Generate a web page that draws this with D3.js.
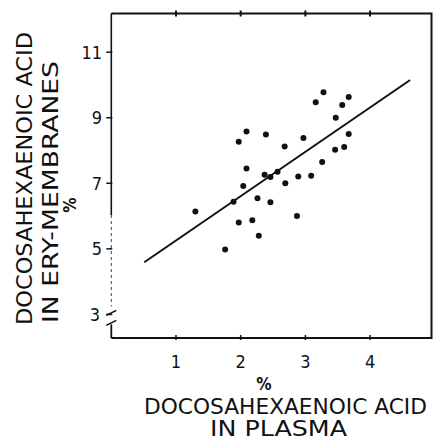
<!DOCTYPE html>
<html>
<head>
<meta charset="utf-8">
<script src="https://cdn.jsdelivr.net/npm/d3@7"></script>
<style>
  html, body { margin: 0; padding: 0; background: #fff; }
  svg text { font-family: "Liberation Sans Narrow", "DejaVu Sans Condensed", "DejaVu Sans", sans-serif; fill: #111; }
</style>
</head>
<body>
<div id="chart"></div>
<script>
'use strict';

// % docosahexaenoic acid in plasma (x) vs in erythrocyte membranes (y)
const plasmaDHA = [3.28, 3.16, 3.67, 3.57, 3.47, 3.67, 3.60, 3.46, 3.26, 2.97,
                   2.68, 2.39, 2.09, 1.97, 2.09, 2.04, 2.37, 2.46, 2.57, 2.69,
                   2.89, 3.09, 1.89, 2.26, 2.46, 2.18, 2.87, 1.97, 2.28, 1.76, 1.30]
const eryDHA    = [9.78, 9.47, 9.63, 9.39, 9.00, 8.50, 8.11, 8.02, 7.65, 8.38,
                   8.12, 8.49, 8.58, 8.27, 7.45, 6.92, 7.26, 7.19, 7.35, 7.00,
                   7.21, 7.23, 6.44, 6.54, 6.42, 5.87, 6.00, 5.80, 5.40, 4.98, 6.14]

// regression line end points
const lineX = [0.51, 4.62]
const lineY = [4.59, 10.15]

const xTicks = [1, 2, 3, 4]
const yTicks = [3, 5, 7, 9, 11]

const W = 434, H = 441
const frame = { left: 111.3, right: 431.5, top: 13.5, bottom: 338 }

const svg = d3.select('#chart').append('svg')
  .attr('width', W).attr('height', H)

const x = d3.scaleLinear().domain([0, 4.95]).range([frame.left, frame.right])
const y = d3.scaleLinear().domain([2.28, 12.18]).range([frame.bottom, frame.top])

const ink = '#111'

// frame: top + right + bottom solid
svg.append('path')
  .attr('d', `M${frame.left},${frame.top} H${frame.right} V${frame.bottom} H${frame.left}`)
  .attr('fill', 'none').attr('stroke', ink).attr('stroke-width', 2)

// left axis: solid upper part, faint dashed lower part, break, short solid stub
const y3 = y(3)
svg.append('line')
  .attr('x1', frame.left).attr('x2', frame.left)
  .attr('y1', frame.top).attr('y2', 215)
  .attr('stroke', ink).attr('stroke-width', 1.6)
svg.append('line')
  .attr('x1', frame.left).attr('x2', frame.left)
  .attr('y1', 215).attr('y2', y3 - 8)
  .attr('stroke', '#444').attr('stroke-width', 1).attr('stroke-dasharray', '3,3')
svg.append('line')
  .attr('x1', frame.left).attr('x2', frame.left)
  .attr('y1', y3 + 10).attr('y2', frame.bottom)
  .attr('stroke', ink).attr('stroke-width', 1.8)
;[0, 10].forEach((dy) => {
  svg.append('line')
    .attr('x1', frame.left - 5).attr('y1', y3 + dy + 1)
    .attr('x2', frame.left + 5).attr('y2', y3 + dy - 4)
    .attr('stroke', ink).attr('stroke-width', 1.6)
})

// ticks
svg.append('g').selectAll('line')
  .data(yTicks)
  .enter().append('line')
    .attr('x1', frame.left - 5).attr('x2', frame.left + 1)
    .attr('y1', (d) => y(d)).attr('y2', (d) => y(d))
    .attr('stroke', ink).attr('stroke-width', 1.5)

svg.append('g').selectAll('line')
  .data(xTicks)
  .enter().append('line')
    .attr('x1', (d) => x(d)).attr('x2', (d) => x(d))
    .attr('y1', frame.bottom - 3).attr('y2', frame.bottom + 2)
    .attr('stroke', ink).attr('stroke-width', 1.5)

svg.append('g').selectAll('line')
  .data(xTicks)
  .enter().append('line')
    .attr('x1', (d) => x(d)).attr('x2', (d) => x(d))
    .attr('y1', frame.top - 3).attr('y2', frame.top + 3)
    .attr('stroke', ink).attr('stroke-width', 2)

// tick labels
svg.append('g').selectAll('text')
  .data(yTicks)
  .enter().append('text')
    .attr('x', (d) => d === 3 ? 100 : 102)
    .attr('y', (d) => y(d))
    .attr('dy', '0.36em')
    .attr('text-anchor', 'end')
    .attr('font-size', 18)
    .text((d) => d)

svg.append('g').selectAll('text')
  .data(xTicks)
  .enter().append('text')
    .attr('x', (d) => x(d))
    .attr('y', 368)
    .attr('text-anchor', 'middle')
    .attr('font-size', 18)
    .text((d) => d)

// regression line
svg.append('path')
  .datum(lineX.map((v, i) => [v, lineY[i]]))
  .attr('d', d3.line().x((d) => x(d[0])).y((d) => y(d[1])))
  .attr('fill', 'none').attr('stroke', ink).attr('stroke-width', 2)

// points
svg.append('g').selectAll('circle')
  .data(plasmaDHA.map((v, i) => [v, eryDHA[i]]))
  .enter().append('circle')
    .attr('cx', (d) => x(d[0]))
    .attr('cy', (d) => y(d[1]))
    .attr('r', 3)
    .attr('fill', ink)

// axis titles
const title = (tx, ty, rot, txt, size, len, weight) => {
  const t = svg.append('text')
    .attr('transform', `translate(${tx},${ty}) rotate(${rot})`)
    .attr('text-anchor', 'middle')
    .attr('font-size', size)
    .attr('font-weight', weight || 'normal')
    .text(txt)
  if (len) t.attr('textLength', len).attr('lengthAdjust', 'spacingAndGlyphs')
}

title(264, 390, 0, '%', 17, null, 'bold')
title(285.5, 414, 0, 'DOCOSAHEXAENOIC ACID', 21, 283)
title(278.5, 436, 0, 'IN PLASMA', 21, 137)

title(32, 178.5, -90, 'DOCOSAHEXAENOIC ACID', 21, 293)
title(58, 192, -90, 'IN ERY-MEMBRANES', 21, 262)
title(76, 205, -90, '%', 17, null, 'bold')
</script>
</body>
</html>
